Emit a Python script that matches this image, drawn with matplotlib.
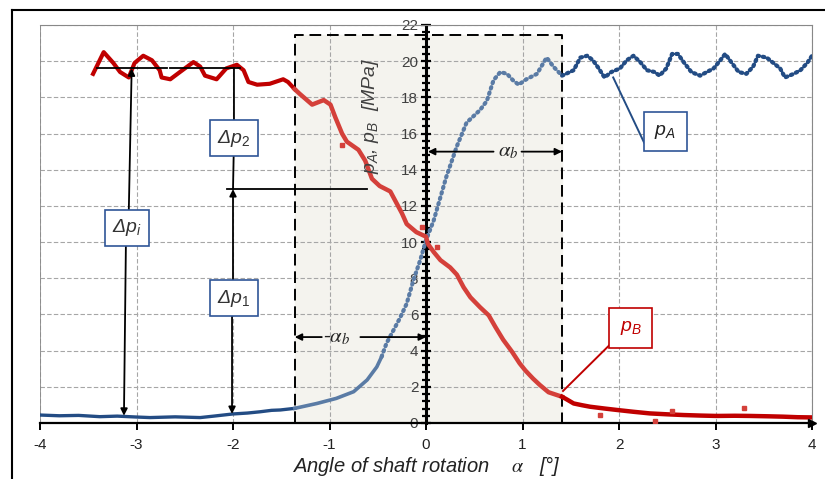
import matplotlib.pyplot as plt
from matplotlib.lines import Line2D
from matplotlib.ticker import MultipleLocator

plt.rcParams['font.family'] = ['Liberation Sans', 'DejaVu Sans']
plt.rcParams['mathtext.fontset'] = 'custom'
plt.rcParams['mathtext.rm'] = 'Liberation Sans'
plt.rcParams['mathtext.it'] = 'Liberation Sans:italic'

# p_A (blue) - outside the shaded band on the left
pa_left_x = [-4.0, -3.8, -3.6, -3.38, -3.2, -3.0, -2.86, -2.6, -2.34, -2.2, -2.0, -1.85, -1.72, -1.6, -1.51, -1.36]
pa_left_y = [0.44, 0.40, 0.42, 0.35, 0.38, 0.33, 0.30, 0.34, 0.30, 0.38, 0.50, 0.55, 0.62, 0.70, 0.72, 0.81]
# p_A inside the band, flat part then steep rise
pa_mid_x = [-1.36, -1.13, -0.93, -0.75, -0.61, -0.51, -0.46]
pa_mid_y = [0.81, 1.08, 1.36, 1.73, 2.38, 3.10, 3.66]
pa_rise_x = [-0.46, -0.41, -0.34, -0.27, -0.20, -0.13, -0.06, 0.0, 0.08, 0.21, 0.32, 0.42, 0.56, 0.63,
             0.70, 0.77, 0.84, 0.90, 0.96, 1.04, 1.15, 1.25, 1.32, 1.41]
pa_rise_y = [3.66, 4.4, 5.1, 5.8, 6.6, 7.9, 9.0, 10.1, 11.2, 13.6, 15.3, 16.6, 17.3, 17.8,
             18.95, 19.4, 19.3, 18.95, 18.7, 19.0, 19.3, 20.2, 19.7, 19.2]
# p_A right of the band
pa_right_x = [1.41, 1.53, 1.60, 1.67, 1.73, 1.79, 1.85, 1.92, 2.01, 2.08, 2.15, 2.22, 2.29, 2.37, 2.42,
              2.49, 2.55, 2.61, 2.67, 2.75, 2.84, 2.91, 2.98, 3.05, 3.10, 3.17, 3.24, 3.32, 3.39, 3.44,
              3.53, 3.60, 3.67, 3.72, 3.81, 3.88, 3.95, 4.0]
pa_right_y = [19.2, 19.5, 20.2, 20.3, 20.05, 19.6, 19.1, 19.4, 19.6, 20.05, 20.3, 19.95, 19.5, 19.4, 19.2,
              19.6, 20.4, 20.4, 19.95, 19.4, 19.2, 19.4, 19.6, 20.05, 20.4, 19.9, 19.4, 19.3, 19.7, 20.3,
              20.2, 19.9, 19.6, 19.1, 19.3, 19.5, 19.9, 20.3]

# p_B (red)
pb_left_x = [-3.45, -3.34, -3.24, -3.17, -3.08, -3.02, -2.93, -2.84, -2.76, -2.74, -2.65, -2.55, -2.41,
             -2.34, -2.29, -2.17, -2.07, -1.96, -1.89, -1.84, -1.75, -1.62, -1.48, -1.43, -1.36]
pb_left_y = [19.3, 20.5, 19.9, 19.4, 19.1, 19.9, 20.3, 20.05, 19.5, 19.1, 19.0, 19.4, 19.95,
             19.7, 19.2, 19.0, 19.6, 19.8, 19.5, 18.85, 18.7, 18.75, 19.0, 18.85, 18.45]
pb_mid_x = [-1.36, -1.31, -1.18, -1.06, -0.99, -0.94, -0.87, -0.82, -0.70, -0.63, -0.56, -0.48, -0.37,
            -0.30, -0.25, -0.20, -0.10, 0.0, 0.02, 0.08, 0.15, 0.25, 0.32, 0.39, 0.46, 0.56, 0.65,
            0.72, 0.80, 0.89, 0.97, 1.03, 1.11, 1.18, 1.27, 1.41]
pb_mid_y = [18.45, 18.2, 17.6, 17.85, 17.6, 16.9, 16.0, 15.55, 15.1, 14.5, 13.5, 13.1, 12.8,
            12.1, 11.6, 11.0, 10.55, 10.3, 9.9, 9.45, 9.0, 8.6, 8.2, 7.5, 6.95, 6.4, 5.95,
            5.3, 4.6, 3.95, 3.3, 2.9, 2.45, 2.1, 1.7, 1.45]
pb_right_x = [1.41, 1.46, 1.53, 1.62, 1.70, 1.85, 1.98, 2.15, 2.32, 2.5, 2.67, 2.85, 3.01, 3.2,
              3.36, 3.55, 3.70, 3.85, 3.98]
pb_right_y = [1.45, 1.3, 1.08, 0.98, 0.9, 0.8, 0.72, 0.62, 0.53, 0.48, 0.44, 0.41, 0.39, 0.4,
              0.39, 0.37, 0.35, 0.32, 0.31]
pb_out_x = [-0.87, -0.04, 0.11, 1.80, 2.37, 2.55, 3.30]
pb_out_y = [15.35, 10.85, 9.75, 0.45, 0.12, 0.65, 0.83]

x_ticks = [-4, -3, -2, -1, 0, 1, 2, 3, 4]
y_ticks = [0, 2, 4, 6, 8, 10, 12, 14, 16, 18, 20, 22]
band = (-1.36, 1.41, 21.45)
dp_level = 19.6
dp_mid = 12.93

blue_dark = '#234C84'
blue_light = '#5A7BA5'
red_dark = '#C00000'
red_light = '#D4403A'
txt_gray = '#404040'

fig = plt.figure(figsize=(8.25, 4.79), dpi=100)
ax = fig.add_axes([40 / 825, 1 - 423 / 479, 772 / 825, 398 / 479])
ax.set_xlim(-4, 4)
ax.set_ylim(0, 22)

# shaded band with dashed border
ax.fill_between([band[0], band[1]], 0, band[2], color='#F4F3EE', zorder=0)
ax.plot([band[0], band[0], band[1], band[1]], [0, band[2], band[2], 0], color='black',
        lw=1.4, ls=(0, (6, 3)), zorder=3)

ax.grid(True, color='#A6A6A6', ls=(0, (4, 2)), lw=0.8)
ax.set_axisbelow(True)
ax.axvline(-4, color='#888888', lw=1.2, zorder=1)

# spines
ax.spines['left'].set_position(('data', 0))
ax.spines['left'].set_linewidth(2.2)
ax.spines['bottom'].set_linewidth(1.6)
ax.spines['top'].set_color('#888888')
ax.spines['right'].set_color('#888888')
ax.set_xticks(x_ticks)
ax.set_xticklabels(['-4', '-3', '-2', '-1', '0', '1', '2', '3', '4'], fontsize=11, color='#222222')
ax.set_yticks(y_ticks)
ax.set_yticklabels([str(v) for v in y_ticks], fontsize=11, color=txt_gray)
ax.yaxis.set_minor_locator(MultipleLocator(0.4))
ax.tick_params(axis='x', direction='out', length=5, width=1.4, pad=6)
ax.tick_params(axis='y', which='major', direction='inout', length=7, width=1.6, pad=2)
ax.tick_params(axis='y', which='minor', direction='inout', length=6, width=1.6)
ax.plot(4, 0, marker='>', color='black', ms=6, clip_on=False, zorder=6)

# series
ax.plot(pa_left_x, pa_left_y, color=blue_dark, lw=2.4, zorder=4)
ax.plot(pa_mid_x, pa_mid_y, color=blue_light, lw=2.6, zorder=4)
ax.plot(pa_rise_x, pa_rise_y, color=blue_light, lw=3, ls=(0, (0.35, 1.0)),
        dash_capstyle='round', zorder=4)
ax.plot(pa_right_x, pa_right_y, color=blue_dark, lw=3, ls=(0, (0.4, 0.9)),
        dash_capstyle='round', zorder=4)
ax.plot(pb_left_x, pb_left_y, color=red_dark, lw=3, zorder=4)
ax.plot(pb_mid_x, pb_mid_y, color=red_light, lw=3.2, zorder=4)
ax.plot(pb_right_x, pb_right_y, color=red_dark, lw=3.2, zorder=4)
ax.plot(pb_out_x, pb_out_y, 's', color=red_light, ms=3.5, zorder=4)

# delta-p annotations
ax.plot([-3.41, -2.68], [dp_level, dp_level], color='black', lw=1.3, zorder=5)
ax.plot([-2.65, -1.93], [dp_level, dp_level], color='black', lw=1.3, zorder=5)
ax.plot([-2.06, -0.61], [dp_mid, dp_mid], color='black', lw=1.3, zorder=5)

arw = dict(arrowstyle='-|>', color='black', lw=1.3, mutation_scale=10, shrinkA=0, shrinkB=0)
ax.annotate('', xy=(-3.05, dp_level), xytext=(-3.08, 11.7), arrowprops=arw, zorder=5)
ax.annotate('', xy=(-3.13, 0.4), xytext=(-3.11, 9.8), arrowprops=arw, zorder=5)
ax.annotate('', xy=(-1.99, 15.9), xytext=(-1.99, dp_level), arrowprops=arw, zorder=5)
ax.annotate('', xy=(-1.99, 15.6), xytext=(-2.0, dp_mid), arrowprops=arw, zorder=5)
ax.annotate('', xy=(-2.0, dp_mid), xytext=(-2.0, 7.7), arrowprops=arw, zorder=5)
ax.annotate('', xy=(-2.01, 0.5), xytext=(-2.01, 6.1), arrowprops=arw, zorder=5)

box_blue = dict(boxstyle='square,pad=0.38', fc='white', ec='#2F5597', lw=1.2)
ax.text(-3.1, 10.8, r'Δ$p_i$', fontsize=14, ha='center', va='center', style='italic',
        color='#333333', bbox=box_blue, zorder=7)
ax.text(-1.99, 15.75, r'Δ$p_\mathit{2}$', fontsize=14, ha='center', va='center', style='italic',
        color='#333333', bbox=box_blue, zorder=7)
ax.text(-1.99, 6.9, r'Δ$p_\mathit{1}$', fontsize=14, ha='center', va='center', style='italic',
        color='#333333', bbox=box_blue, zorder=7)

# alpha_b annotations
ax.annotate('', xy=(band[0], 4.75), xytext=(-1.08, 4.75), arrowprops=arw, zorder=5)
ax.annotate('', xy=(0, 4.75), xytext=(-0.68, 4.75), arrowprops=arw, zorder=5)
ax.text(-0.93, 4.75, r'-$\alpha_b$', fontsize=15, ha='center', va='center', color='#222222',
        math_fontfamily='stix', zorder=6)
ax.annotate('', xy=(0.02, 15.0), xytext=(0.7, 15.0), arrowprops=arw, zorder=5)
ax.annotate('', xy=(band[1], 15.0), xytext=(0.99, 15.0), arrowprops=arw, zorder=5)
ax.text(0.85, 15.0, r'$\alpha_b$', fontsize=15, ha='center', va='center', color='#222222',
        math_fontfamily='stix', zorder=6)

# series labels
ax.plot([1.94, 2.26], [19.1, 15.5], color=blue_dark, lw=1.4, zorder=5)
ax.text(2.48, 16.1, r'$p_A$', fontsize=14, ha='center', va='center', color='#222222',
        bbox=dict(boxstyle='square,pad=0.55', fc='white', ec='#2F5597', lw=1.2), zorder=7)
ax.plot([1.42, 1.9], [1.77, 4.3], color=red_dark, lw=1.4, zorder=5)
ax.text(2.12, 5.25, r'$p_B$', fontsize=14, ha='center', va='center', color=red_dark,
        bbox=dict(boxstyle='square,pad=0.55', fc='white', ec=red_dark, lw=1.2), zorder=7)

# axis titles
ax.text(-0.58, 17.0, r'$p_A$, $p_B$  [MPa]', fontsize=14, rotation=90, ha='center', va='center',
        color=txt_gray, style='italic', zorder=6)
ax.set_xlabel(r'Angle of shaft rotation    $\alpha$   [°]', fontsize=14.5, style='italic',
              color='#222222', labelpad=1)
ax.xaxis.label.set_math_fontfamily('stix')

# outer frame
fig.add_artist(Line2D([12 / 825, 12 / 825], [0, 1 - 10 / 479], color='black', lw=1.5))
fig.add_artist(Line2D([12 / 825, 1], [1 - 10 / 479, 1 - 10 / 479], color='black', lw=1.5))

fig.savefig('out.png', dpi=100)
